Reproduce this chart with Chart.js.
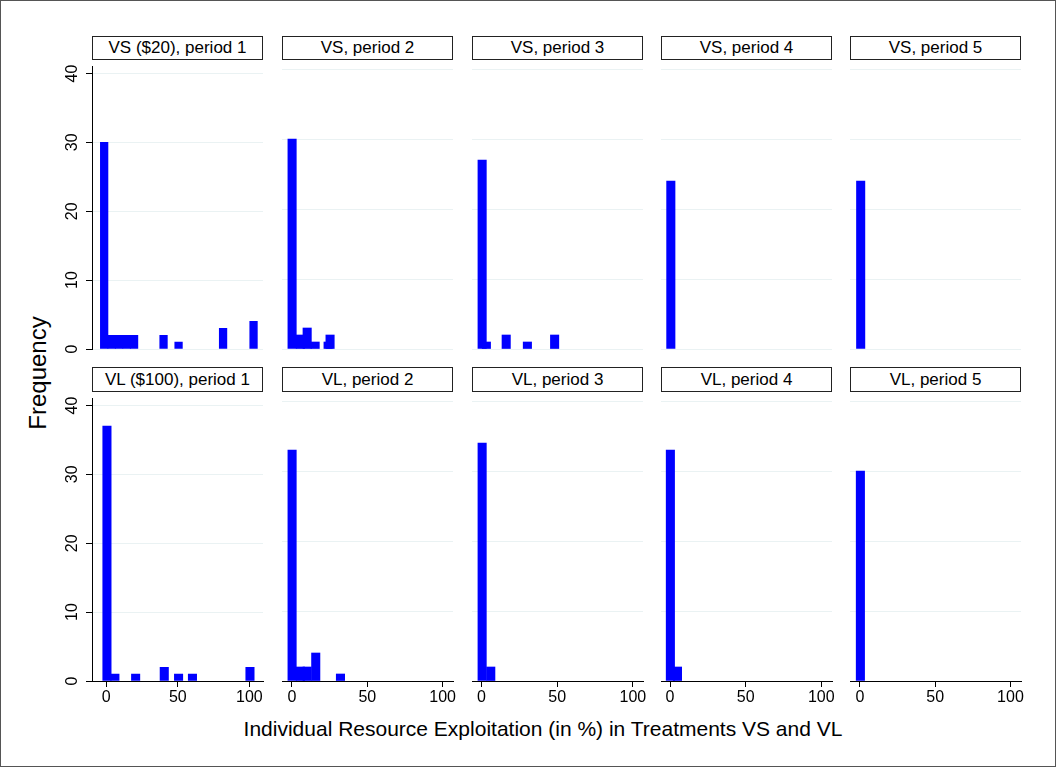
<!DOCTYPE html>
<html><head><meta charset="utf-8">
<script src="https://cdn.jsdelivr.net/npm/chart.js@4.4.0/dist/chart.umd.min.js"></script>
<style>
html,body{margin:0;padding:0;background:#fff;}
body{width:1056px;height:767px;position:relative;overflow:hidden;font-family:"Liberation Sans",Arial,Helvetica,sans-serif;}
#frame{position:absolute;left:0;top:0;width:1054px;height:765px;border:1px solid #555;}
canvas.cv{position:absolute;}
.ttl{position:absolute;box-sizing:border-box;border:1px solid #222;background:#fff;text-align:center;font-size:17px;color:#000;white-space:nowrap;}
.axt{position:absolute;color:#000;white-space:nowrap;}
</style></head>
<body>
<div id="frame"></div>
<div id="stage"></div>
<div class="axt" id="xt" style="left:143px;width:800px;top:717px;text-align:center;font-size:21px;">Individual Resource Exploitation (in %) in Treatments VS and VL</div>
<div class="axt" id="yt" style="left:38px;top:373px;font-size:24px;transform:translate(-50%,-50%) rotate(-90deg);">Frequency</div>
<script>
// ---- data ----
const xTickValues = [0, 50, 100];
const yTickValues = [0, 10, 20, 30, 40];
const panelTitles = [
  "VS ($20), period 1", "VS, period 2", "VS, period 3", "VS, period 4", "VS, period 5",
  "VL ($100), period 1", "VL, period 2", "VL, period 3", "VL, period 4", "VL, period 5"
];
// bin centres (% exploitation) and frequencies per panel
const vs1Bins = [-1.5, 3.7, 8.9, 14.2, 19.4, 40.0, 50.5, 81.6, 102.9];
const vs1Freq = [30, 2, 2, 2, 2, 2, 1, 3, 4];
const vs2Bins = [0.1, 5.6, 10.1, 15.4, 24.0, 25.3];
const vs2Freq = [30, 2, 3, 1, 1, 2];
const vs3Bins = [0.4, 3.2, 16.3, 30.3, 48.3];
const vs3Freq = [27, 1, 2, 1, 2];
const vs4Bins = [0.5];
const vs4Freq = [24];
const vs5Bins = [0.5];
const vs5Freq = [24];
const vl1Bins = [0.45, 6.0, 20.5, 40.5, 50.5, 60.2, 100.4];
const vl1Freq = [37, 1, 1, 2, 1, 1, 2];
const vl2Bins = [0.1, 5.6, 10.1, 15.8, 32.2];
const vl2Freq = [33, 2, 2, 4, 1];
const vl3Bins = [0.4, 6.1];
const vl3Freq = [34, 2];
const vl4Bins = [0.2, 4.9];
const vl4Freq = [33, 2];
const vl5Bins = [0.3];
const vl5Freq = [30];

const panelBins = [vs1Bins, vs2Bins, vs3Bins, vs4Bins, vs5Bins, vl1Bins, vl2Bins, vl3Bins, vl4Bins, vl5Bins];
const panelFreq = [vs1Freq, vs2Freq, vs3Freq, vs4Freq, vs5Freq, vl1Freq, vl2Freq, vl3Freq, vl4Freq, vl5Freq];

// ---- layout ----
const colLeft = [92, 282, 472, 661, 850];
const plotW = 171;
const rowTop = [62, 394];
const plotH = 287;
const yAxisW = 30, xAxisH = 28, padTop = 10, padRight = 15;
const colXRange = [[-10, 109.5], [-6.6, 106.9], [-6.3, 106.7], [-6.0, 107.1], [-6.6, 107.0]];
const titleBox = [[36, 24], [367, 25]];
const FONT = '"Liberation Sans", Arial, Helvetica, sans-serif';
const GRID = '#eaf2f3';

const stage = document.getElementById('stage');

for (let i = 0; i < 10; i++) {
  const row = Math.floor(i / 5), col = i % 5;
  const isLeft = col === 0, isBottom = row === 1;

  const t = document.createElement('div');
  t.className = 'ttl';
  t.style.left = colLeft[col] + 'px';
  t.style.width = plotW + 'px';
  t.style.top = titleBox[row][0] + 'px';
  t.style.height = titleBox[row][1] + 'px';
  t.style.lineHeight = (titleBox[row][1] - 2) + 'px';
  t.textContent = panelTitles[i];
  stage.appendChild(t);

  const cv = document.createElement('canvas');
  cv.className = 'cv';
  const cw = yAxisW + plotW + padRight, ch = padTop + plotH + xAxisH;
  cv.width = cw; cv.height = ch;
  cv.style.width = cw + 'px'; cv.style.height = ch + 'px';
  cv.style.left = (colLeft[col] - yAxisW) + 'px';
  cv.style.top = (rowTop[row] - padTop) + 'px';
  stage.appendChild(cv);

  const thick = (i === 0) ? 7.6 : 8.4;
  new Chart(cv.getContext('2d'), {
    type: 'bar',
    data: {
      datasets: [{
        data: panelBins[i].map((b, k) => ({ x: b, y: panelFreq[i][k] })),
        backgroundColor: '#0000ff',
        borderWidth: 0,
        barThickness: thick
      }]
    },
    options: {
      responsive: false, animation: false, devicePixelRatio: 1,
      layout: { padding: { left: 0, top: padTop, right: padRight, bottom: 0 } },
      plugins: { legend: { display: false }, tooltip: { enabled: false }, title: { display: false } },
      scales: {
        x: {
          type: 'linear', min: colXRange[col][0], max: colXRange[col][1], offset: false,
          afterFit(s) { s.height = xAxisH; },
          afterBuildTicks(s) { s.ticks = xTickValues.map(v => ({ value: v })); },
          grid: { display: isBottom, drawOnChartArea: false, drawTicks: true, tickLength: 6, tickColor: '#000', offset: false },
          border: { display: isBottom, color: '#000', width: 1 },
          ticks: { display: isBottom, padding: 1, color: '#000', font: { family: FONT, size: 16 }, maxRotation: 0, minRotation: 0, autoSkip: false }
        },
        y: {
          type: 'linear', min: 0, max: 41,
          afterFit(s) { s.width = yAxisW; },
          afterBuildTicks(s) { s.ticks = yTickValues.map(v => ({ value: v })); },
          grid: {
            color: (c) => (isBottom && c.tick && c.tick.value === 0) ? '#000' : GRID,
            lineWidth: 1, drawTicks: isLeft, tickLength: 6, tickColor: '#000'
          },
          border: { display: isLeft, color: '#000', width: 1 },
          ticks: { display: isLeft, padding: 5, color: '#000', font: { family: FONT, size: 16 }, minRotation: 90, maxRotation: 90, crossAlign: 'center', autoSkip: false }
        }
      }
    }
  });
}
</script>
</body></html>
